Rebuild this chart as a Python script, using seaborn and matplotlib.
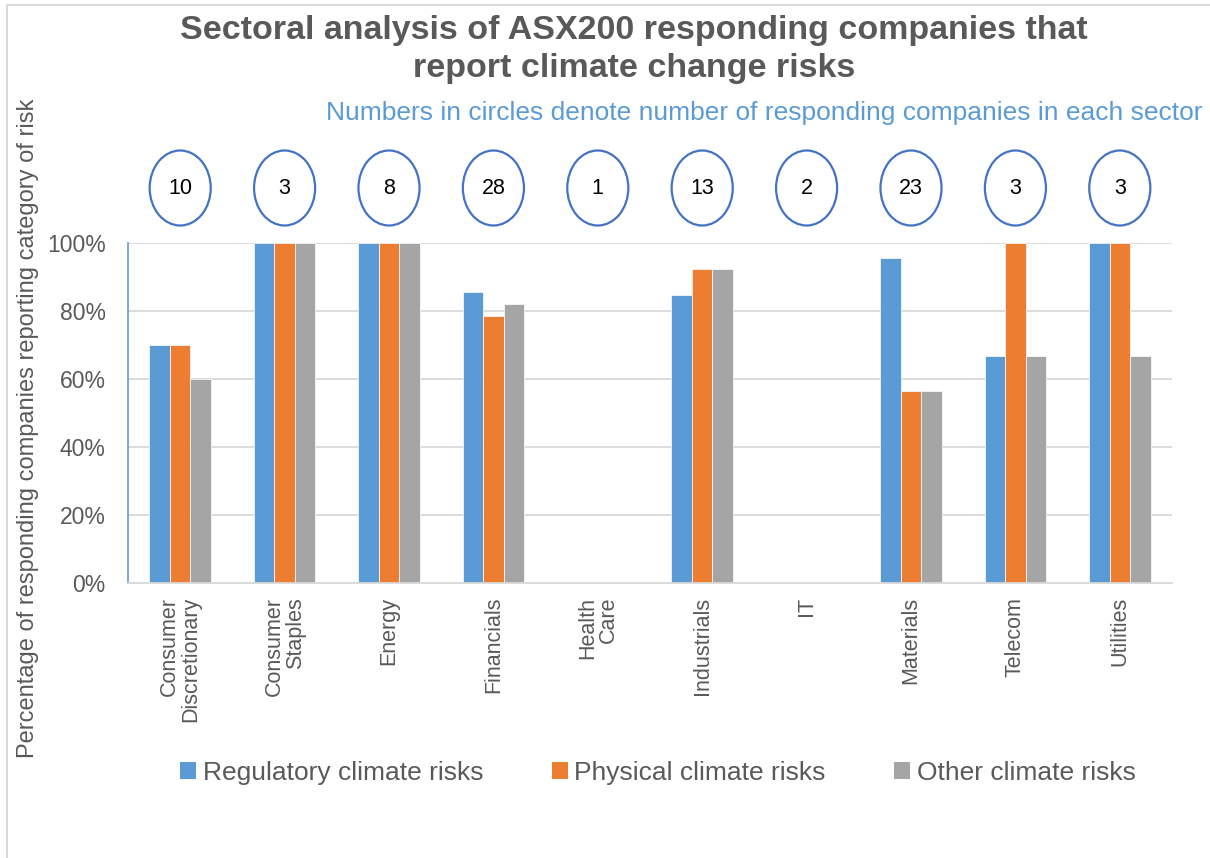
import matplotlib
matplotlib.use("Agg")
import matplotlib.pyplot as plt
import matplotlib.transforms as mtransforms
from matplotlib.patches import Ellipse, Patch
from matplotlib.lines import Line2D
import seaborn as sns
import pandas as pd

# ---- data ----
sectors = ["Consumer\nDiscretionary", "Consumer\nStaples", "Energy", "Financials",
           "Health\nCare", "Industrials", "IT", "Materials", "Telecom", "Utilities"]
company_counts = [10, 3, 8, 28, 1, 13, 2, 23, 3, 3]
regulatory = [0.70, 1.00, 1.00, 0.857, 0.0, 0.846, 0.0, 0.957, 0.667, 1.00]
physical = [0.70, 1.00, 1.00, 0.786, 0.0, 0.923, 0.0, 0.565, 1.00, 1.00]
other = [0.60, 1.00, 1.00, 0.821, 0.0, 0.923, 0.0, 0.565, 0.667, 0.667]
series_names = ["Regulatory climate risks", "Physical climate risks", "Other climate risks"]
y_ticks = [0, 0.2, 0.4, 0.6, 0.8, 1.0]
y_tick_labels = ["0%", "20%", "40%", "60%", "80%", "100%"]

colors = ["#5B9BD5", "#ED7D31", "#A5A5A5"]
text_gray = "#595959"

rows = []
for name, vals in zip(series_names, [regulatory, physical, other]):
    for s, v in zip(sectors, vals):
        rows.append({"Sector": s, "Value": v, "Risk": name})
df = pd.DataFrame(rows)

sns.set_theme(style="white")
plt.rcParams["font.family"] = ["Liberation Sans", "DejaVu Sans"]

fig = plt.figure(figsize=(12.10, 8.58), dpi=100)
ax = fig.add_axes([128 / 1210, 1 - 583 / 858, (1172 - 128) / 1210, (583 - 243) / 858])

sns.barplot(data=df, x="Sector", y="Value", hue="Risk", palette=colors,
            hue_order=series_names, order=sectors, width=0.59, saturation=1,
            edgecolor="white", linewidth=0.5, errorbar=None, ax=ax, legend=False)

ax.set_xlim(-0.5, len(sectors) - 0.5)
ax.set_ylim(0, 1.0)
ax.set_yticks(y_ticks)
ax.set_yticklabels(y_tick_labels)
ax.set_xlabel("")
ax.set_ylabel("")
ax.yaxis.grid(True, color="#D9D9D9", linewidth=1.3)
ax.set_axisbelow(True)
for sp in ["top", "right"]:
    ax.spines[sp].set_visible(False)
ax.spines["bottom"].set_color("#D9D9D9")
ax.spines["bottom"].set_linewidth(1.3)
ax.spines["left"].set_color("#6FA3D8")
ax.spines["left"].set_linewidth(1.3)
ax.tick_params(axis="both", length=0)
ax.tick_params(axis="y", pad=16, labelsize=16.5, labelcolor=text_gray)
ax.tick_params(axis="x", pad=10, labelsize=15.5, labelcolor=text_gray)
for lbl in ax.get_xticklabels():
    lbl.set_rotation(90)
    lbl.set_ha("center")
    lbl.set_va("top")
    lbl.set_multialignment("right")
    lbl.set_linespacing(1.0)

# circles with company counts
trans = mtransforms.blended_transform_factory(ax.transData, ax.transAxes)
cy = (583 - 188) / 340
for i, n in enumerate(company_counts):
    e = Ellipse((i, cy), width=0.585, height=75 / 340, transform=trans,
                facecolor="white", edgecolor="#4472C4", linewidth=1.6, clip_on=False)
    ax.add_patch(e)
    ax.text(i, cy, str(n), transform=trans, ha="center", va="center",
            fontsize=15.5, color="black")

# titles
fig.text(634 / 1210, 1 - 31 / 858, "Sectoral analysis of ASX200 responding companies that",
         ha="center", va="center", fontsize=24.5, fontweight="bold", color=text_gray)
fig.text(634 / 1210, 1 - 69 / 858, "report climate change risks",
         ha="center", va="center", fontsize=24.5, fontweight="bold", color=text_gray)
fig.text(1202 / 1210, 1 - 113 / 858,
         "Numbers in circles denote number of responding companies in each sector",
         ha="right", va="center", fontsize=19, color="#5B9BD5")

# y label
fig.text(28 / 1210, 1 - 428 / 858,
         "Percentage of responding companies reporting category of risk",
         rotation=90, ha="center", va="center", fontsize=17, color=text_gray)

# legend
handles = [Patch(facecolor=c, edgecolor="none") for c in colors]
fig.legend(handles, series_names, loc="center", bbox_to_anchor=(658 / 1210, 1 - 773 / 858),
           ncol=3, frameon=False, fontsize=19, handlelength=0.6, handleheight=0.6,
           handletextpad=0.25, columnspacing=2.6, labelcolor=text_gray)

# chart border
fig.add_artist(Line2D([7 / 1210, 1], [1 - 5 / 858, 1 - 5 / 858], transform=fig.transFigure,
                      color="#D9D9D9", linewidth=1.5))
fig.add_artist(Line2D([7 / 1210, 7 / 1210], [0, 1 - 5 / 858], transform=fig.transFigure,
                      color="#D9D9D9", linewidth=1.5))

fig.savefig("out.png", dpi=100, facecolor="white")
